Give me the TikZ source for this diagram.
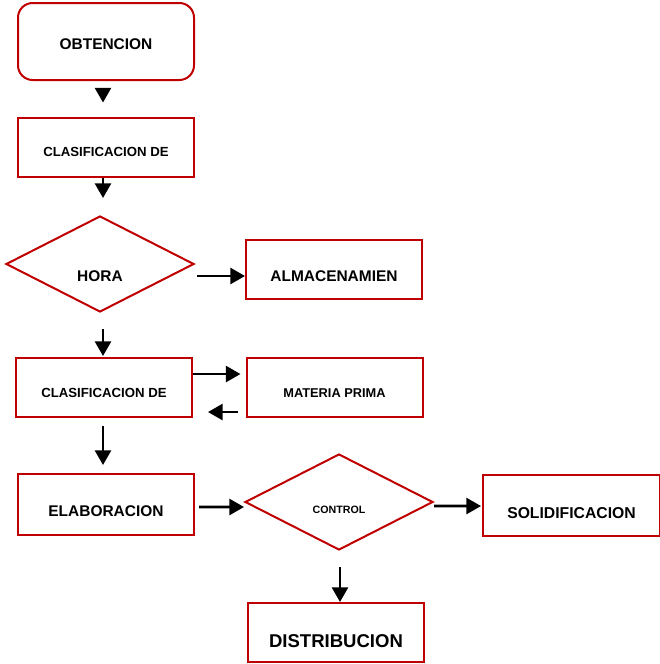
\documentclass[tikz,border=0pt]{standalone}
\usepackage{fontspec}
\setmainfont{Liberation Sans}
\usetikzlibrary{shapes.geometric,arrows.meta}
\definecolor{boxred}{RGB}{192,0,0}

\begin{document}
\begin{tikzpicture}[x=0.75pt,y=-0.75pt,
  box/.style={draw=boxred,line width=1.5pt,minimum width=132pt,minimum height=44.25pt,inner sep=0pt,text depth=0pt},
  decision/.style={draw=boxred,line width=1.5pt,shape=diamond,minimum width=141pt,minimum height=72pt,inner sep=0pt,text depth=0pt},
  arrow/.style={line width=2pt,-{Triangle[length=11pt,width=12pt]}}]
  \useasboundingbox (0,0) rectangle (660,664);

  \node[box,rounded corners=11pt,minimum height=57.75pt,text height=11.3pt,font=\fontsize{11.6}{14}\selectfont\bfseries] (obtencion) at (106,41.5) {OBTENCION};
  \node[box,text height=14.6pt,font=\fontsize{9.9}{12}\selectfont\bfseries] (clasif1) at (106,147) {CLASIFICACION DE};
  \node[decision,text height=25.6pt,font=\fontsize{11.6}{14}\selectfont\bfseries] (hora) at (100,264) {HORA};
  \node[box,text height=18.1pt,font=\fontsize{11.6}{14}\selectfont\bfseries] (almacen) at (334,269) {ALMACENAMIEN};
  \node[box,text height=15.3pt,font=\fontsize{9.9}{12}\selectfont\bfseries] (clasif2) at (104,387.5) {CLASIFICACION DE};
  \node[box,text height=14.4pt,font=\fontsize{9.6}{12}\selectfont\bfseries] (materia) at (334.5,387.5) {MATERIA PRIMA};
  \node[box,minimum height=45.75pt,text height=18.1pt,font=\fontsize{11.6}{14}\selectfont\bfseries] (elabor) at (106,504.5) {ELABORACION};
  \node[decision,text height=17.7pt,font=\fontsize{8}{10}\selectfont\bfseries] (control) at (339,502) {CONTROL};
  \node[box,minimum width=132.75pt,minimum height=45.75pt,text height=19.7pt,font=\fontsize{11.8}{14}\selectfont\bfseries] (solidif) at (571.5,505.5) {SOLIDIFICACION};
  \node[box,text height=22pt,font=\fontsize{13.9}{16}\selectfont\bfseries] (distrib) at (336,632.5) {DISTRIBUCION};

  \draw[arrow,shorten <=6pt,shorten >=10.5pt] ([xshift=-2.25pt]obtencion.south) -- ([xshift=-2.25pt]clasif1.north);
  \draw[arrow,shorten >=12.75pt] ([xshift=-2.25pt]clasif1.south) -- ([xshift=2.25pt]hora.north);
  \draw[arrow,shorten <=1.5pt] ([yshift=-9pt]hora.east) -- ([yshift=-5.25pt]almacen.west);
  \draw[arrow,shorten <=12pt,shorten >=0.75pt] ([xshift=2.25pt]hora.south) -- ([xshift=-0.75pt]clasif2.north);
  \draw[arrow,shorten >=3.75pt] ([yshift=10.1pt]clasif2.east) -- ([yshift=10.1pt]materia.west);
  \draw[arrow,shorten <=6pt,shorten >=11.25pt] ([yshift=-18.4pt]materia.west) -- ([yshift=-18.4pt]clasif2.east);
  \draw[arrow,shorten <=6pt,shorten >=6pt] ([xshift=-0.75pt]clasif2.south) -- ([xshift=-2.25pt]elabor.north);
  \draw[arrow,shorten <=3pt] ([yshift=-1.9pt]elabor.east) -- ([yshift=-3.75pt]control.west);
  \draw[arrow,shorten >=0.75pt] ([yshift=-3pt]control.east) -- ([yshift=-0.4pt]solidif.west);
  \draw[arrow,shorten <=12pt] ([xshift=0.75pt]control.south) -- ([xshift=3pt]distrib.north);
\end{tikzpicture}
\end{document}
